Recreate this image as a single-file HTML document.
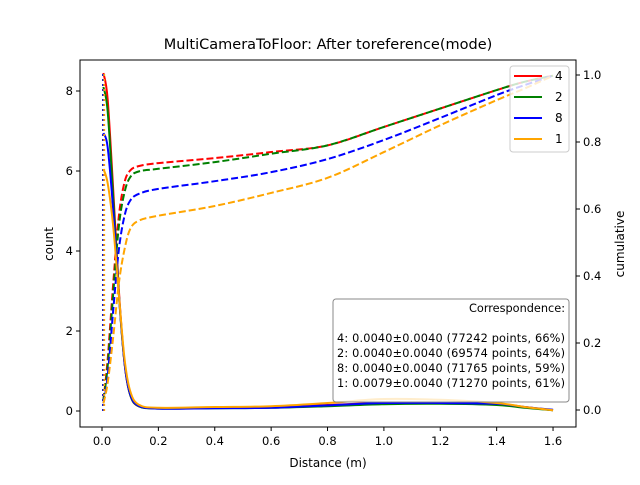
<!DOCTYPE html>
<html><head><meta charset="utf-8"><style>
body{margin:0;background:#fff}
svg{font-family:"DejaVu Sans","Liberation Sans",sans-serif}
</style></head><body>
<svg id="c" width="640" height="480">
<text x="328" y="49" font-size="14.5" text-anchor="middle">MultiCameraToFloor: After toreference(mode)</text>
<g id="marks"></g>
<rect x="80" y="60" width="496" height="367" fill="none" stroke="#000" stroke-width="1"/>
<g id="axes" font-size="11.5"></g>
<text x="328" y="467" font-size="12" text-anchor="middle">Distance (m)</text>
<text transform="translate(53,244) rotate(-90)" font-size="12" text-anchor="middle">count</text>
<text transform="translate(624,244) rotate(-90)" font-size="12" text-anchor="middle">cumulative</text>
<g>
<rect x="510" y="66" width="59" height="86" rx="3" fill="#fff" fill-opacity="0.8" stroke="#ccc"/>
<g id="leg" font-size="12"></g>
</g>
<g font-size="11.3">
<rect x="333" y="299" width="236" height="103" rx="3" fill="#fff" fill-opacity="0.8" stroke="#888"/>
<text x="565" y="312" text-anchor="end">Correspondence:</text>
<text x="565" y="342" text-anchor="end" textLength="228">4: 0.0040±0.0040 (77242 points, 66%)</text>
<text x="565" y="357" text-anchor="end" textLength="228">2: 0.0040±0.0040 (69574 points, 64%)</text>
<text x="565" y="372" text-anchor="end" textLength="228">8: 0.0040±0.0040 (71765 points, 59%)</text>
<text x="565" y="387" text-anchor="end" textLength="228">1: 0.0079±0.0040 (71270 points, 61%)</text>
</g>
</svg>
<script>
const labels=["4","2","8","1"];
const colors=["red","green","blue","orange"];
const xs=[0.005,0.02,0.04,0.06,0.08,0.1,0.13,0.2,0.4,0.6,0.8,1.0,1.2,1.4,1.5,1.6];
const count4=[8.45,7.8,5.5,3.0,1.2,0.4,0.12,0.07,0.08,0.1,0.15,0.2,0.2,0.18,0.1,0.02];
const count2=[8.1,7.5,5.3,2.9,1.2,0.4,0.12,0.06,0.07,0.08,0.12,0.17,0.18,0.15,0.08,0.02];
const count8=[6.95,6.6,5.0,2.9,1.2,0.42,0.13,0.06,0.07,0.08,0.14,0.2,0.2,0.18,0.1,0.03];
const count1=[6.05,5.7,4.6,2.9,1.3,0.5,0.16,0.08,0.1,0.12,0.2,0.3,0.28,0.2,0.1,0.02];
const cum4=[0.03,0.15,0.38,0.58,0.68,0.715,0.728,0.737,0.752,0.77,0.79,0.845,0.9,0.955,0.98,0.998];
const cum2=[0.03,0.13,0.35,0.55,0.65,0.695,0.712,0.72,0.74,0.765,0.79,0.845,0.9,0.955,0.98,0.998];
const cum8=[0.02,0.1,0.3,0.48,0.58,0.625,0.645,0.66,0.683,0.71,0.749,0.806,0.872,0.94,0.97,0.998];
const cum1=[0.02,0.08,0.22,0.38,0.48,0.54,0.565,0.58,0.609,0.648,0.693,0.77,0.85,0.925,0.96,0.998];
const medians=[0.004,0.004,0.004,0.0079];
const xTicks=[0,0.2,0.4,0.6,0.8,1.0,1.2,1.4,1.6];
const yTicks=[0,2,4,6,8];
const y2Ticks=[0,0.2,0.4,0.6,0.8,1.0];
const counts=[count4,count2,count8,count1], cums=[cum4,cum2,cum8,cum1];
const X=v=>102+v*281.9, Y=v=>411-v*40, Y2=v=>410-v*335;
const NS="http://www.w3.org/2000/svg";
const mk=(t,a,p)=>{const e=document.createElementNS(NS,t);for(const k in a)e.setAttribute(k,a[k]);p.appendChild(e);return e;};
function path(ys,f){let pts=xs.map((x,i)=>[X(x),f(ys[i])]);let d="M"+pts[0];for(let i=0;i<pts.length-1;i++){const p0=pts[i-1]||pts[i],p1=pts[i],p2=pts[i+1],p3=pts[i+2]||p2;d+=" C"+(p1[0]+(p2[0]-p0[0])/6)+","+(p1[1]+(p2[1]-p0[1])/6)+" "+(p2[0]-(p3[0]-p1[0])/6)+","+(p2[1]-(p3[1]-p1[1])/6)+" "+p2[0]+","+p2[1];}return d;}
const M=document.getElementById("marks");
for(let s=0;s<4;s++){
 const c=mk("path",{d:path(counts[s],Y),fill:"none",stroke:colors[s],"stroke-width":2},M);
 
 
 const d=mk("path",{d:path(cums[s],Y2),fill:"none",stroke:colors[s],"stroke-width":2,"stroke-dasharray":"7,3"},M);
 
 
 const v=mk("line",{x1:X(medians[s]),x2:X(medians[s]),y1:Y(0),y2:Y(8.45),stroke:colors[s],"stroke-width":1.8,"stroke-dasharray":"2,3"},M);
 
 
}
const A=document.getElementById("axes");
xTicks.forEach(t=>{mk("line",{x1:X(t),x2:X(t),y1:427,y2:431,stroke:"#000"},A);const e=mk("text",{x:X(t),y:445,"text-anchor":"middle"},A);e.textContent=t.toFixed(1);
 
 });
yTicks.forEach(t=>{mk("line",{x1:76,x2:80,y1:Y(t),y2:Y(t),stroke:"#000"},A);const e=mk("text",{x:73,y:Y(t)+4,"text-anchor":"end"},A);e.textContent=t;
 
 });
y2Ticks.forEach(t=>{mk("line",{x1:576,x2:580,y1:Y2(t),y2:Y2(t),stroke:"#000"},A);const e=mk("text",{x:583,y:Y2(t)+4},A);e.textContent=t.toFixed(1);
 
 });
const L=document.getElementById("leg");
labels.forEach((l,i)=>{const y=76+i*21;mk("line",{x1:514,x2:542,y1:y,y2:y,stroke:colors[i],"stroke-width":2},L);const e=mk("text",{x:555,y:y+4},L);e.textContent=l;
 
 });
</script>
</body></html>
